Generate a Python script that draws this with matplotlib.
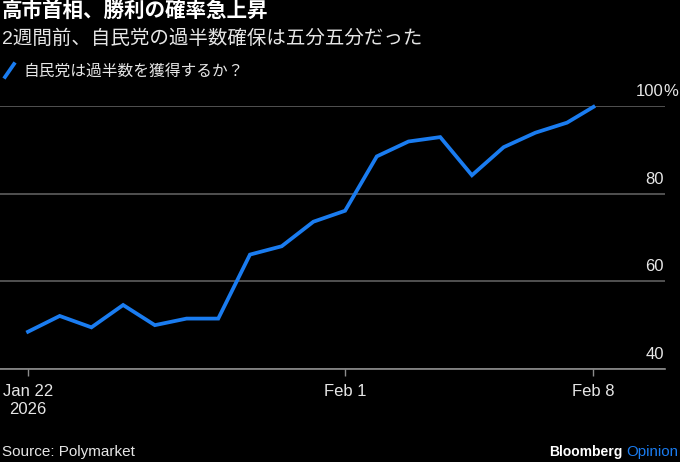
import matplotlib
matplotlib.use("Agg")
import matplotlib.pyplot as plt
from matplotlib.lines import Line2D
import pandas as pd

plt.rcParams['font.family'] = ['Liberation Sans', 'Noto Sans CJK JP', 'DejaVu Sans']

# ---- data ----
dates = ["2026-01-22 00:00", "2026-01-23 00:00", "2026-01-24 00:00", "2026-01-25 00:00",
         "2026-01-26 00:00", "2026-01-27 00:00", "2026-01-28 00:00", "2026-01-29 00:00",
         "2026-01-30 00:00", "2026-01-31 00:00", "2026-02-01 00:00", "2026-02-02 00:00",
         "2026-02-03 00:00", "2026-02-04 00:00", "2026-02-05 00:00", "2026-02-06 00:00",
         "2026-02-07 00:00", "2026-02-08 00:00", "2026-02-08 20:00"]
values = [48.5, 52.1, 49.5, 54.6, 50.0, 51.5, 51.5, 66.1, 68.0, 73.6,
          76.1, 88.5, 91.9, 92.9, 84.2, 90.6, 93.9, 96.2, 99.8]
series_name = "自民党は過半数を獲得するか？"
xtick_dates = ["2026-01-22 00:00", "2026-02-01 00:00", "2026-02-08 20:00"]
xtick_labels = ["Jan 22\n2026", "Feb 1", "Feb 8"]
yticks = [40, 60, 80, 100]
title = "高市首相、勝利の確率急上昇"
subtitle = "2週間前、自民党の過半数確保は五分五分だった"
source = "Source: Polymarket"

BG = "#000000"
BLUE = "#1a7cf0"
TXT = "#e6e6e6"

x = pd.to_datetime(dates, format="%Y-%m-%d %H:%M")
xt = pd.to_datetime(xtick_dates, format="%Y-%m-%d %H:%M")

fig = plt.figure(figsize=(6.8, 4.62), dpi=100, facecolor=BG)
ax = fig.add_axes([0.0, 0.2013, 0.978, 0.5693])
ax.set_facecolor(BG)

ax.plot(x, values, color=BLUE, lw=2.7, solid_joinstyle='miter', clip_on=False, zorder=3)

start = x[0]
ax.set_xlim(start - pd.Timedelta(days=0.883), start + pd.Timedelta(days=20.09))
ax.set_ylim(40, 100)

for s in ['top', 'left', 'right']:
    ax.spines[s].set_visible(False)
ax.spines['bottom'].set_color('#8c8c8c')
ax.spines['bottom'].set_linewidth(1.2)

ax.set_yticks(yticks)
ax.yaxis.grid(True, color='#5e5e5e', lw=1.2)
ax.tick_params(axis='y', left=False, labelleft=False)
ax.set_axisbelow(True)

ax.set_xticks(xt)
ax.set_xticklabels(xtick_labels)
ax.tick_params(axis='x', colors='#8c8c8c', length=5, width=1, pad=6,
               labelcolor=TXT, labelsize=12)

for v in yticks:
    ax.annotate(str(v), xy=(1.0, v), xycoords=('axes fraction', 'data'),
                xytext=(-1, 5), textcoords='offset points', ha='right', va='bottom',
                color=TXT, fontsize=12)
ax.annotate('%', xy=(1.0, 100), xycoords=('axes fraction', 'data'),
            xytext=(-1, 5), textcoords='offset points', ha='left', va='bottom',
            color=TXT, fontsize=12)

# titles
fig.text(2/680, 1 - 12/462, title, color='white', fontsize=14.8, fontweight='bold',
         ha='left', va='center')
fig.text(2/680, 1 - 39/462, subtitle, color=TXT, fontsize=14.0, ha='left', va='center')

# legend
fig.add_artist(Line2D([5/680, 14/680], [1 - 77/462, 1 - 64/462], color=BLUE, lw=2.7,
                      transform=fig.transFigure))
fig.text(23/680, 1 - 71/462, series_name, color=TXT, fontsize=11.3, ha='left', va='center')

# footer
fig.text(2/680, 1 - 452/462, source, color=TXT, fontsize=11, ha='left', va='center')
t1 = fig.text(678/680, 1 - 452/462, "Opinion", color=BLUE, fontsize=10.8,
              ha='right', va='center')
fig.canvas.draw()
bb = t1.get_window_extent()
fig.text((bb.x0 - 3) / 680, 1 - 452/462, "Bloomberg", color='white', fontsize=10,
         fontweight='bold', ha='right', va='center')

fig.savefig("out.png", dpi=100, facecolor=BG)
